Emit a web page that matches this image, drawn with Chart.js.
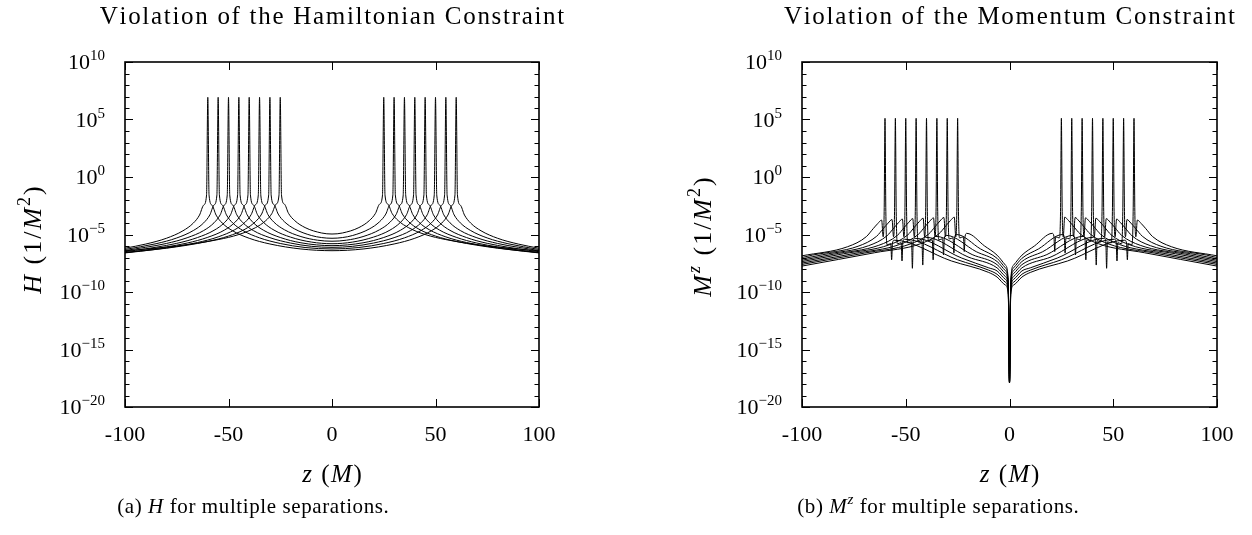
<!DOCTYPE html>
<html><head><meta charset="utf-8">
<script src="https://cdn.jsdelivr.net/npm/chart.js@4.4.1/dist/chart.umd.min.js"></script>
<style>
html,body{margin:0;padding:0;background:#fff;}
body{width:1252px;height:535px;position:relative;overflow:hidden;}
.wrap{position:absolute;top:0;width:626px;height:535px;}
canvas{display:block;}
</style></head><body>
<div class="wrap" style="left:0"><canvas id="cH" width="626" height="535"></canvas></div>
<div class="wrap" style="left:626px"><canvas id="cM" width="626" height="535"></canvas></div>
<script>
// ---------- axis ticks ----------
const zTicks = [-100, -50, 0, 50, 100];
const yMinorExps = [-20,-19,-18,-17,-16,-15,-14,-13,-12,-11,-10,-9,-8,-7,-6,-5,-4,-3,-2,-1,0,1,2,3,4,5,6,7,8,9,10];
const yLabelExps = [-20, -15, -10, -5, 0, 5, 10];

// ---------- Hamiltonian constraint, one curve per separation ----------
const hamSep50 = [[-100,3.8e-7],[-75,1.0e-6],[-55,3.6e-6],[-45,1.0e-5],[-37,3.9e-5],[-32,1.6e-4],[-29,6.9e-4],[-27,4.4e-3],[-25.6,2.7e-2],[-25,8.5e6],[-24.4,2.7e-2],[-23,4.4e-3],[-21,6.9e-4],[-18,1.6e-4],[-13,4.0e-5],[-5,1.35e-5],[0,1.1e-5],[5,1.35e-5],[13,4.0e-5],[18,1.6e-4],[21,6.9e-4],[23,4.4e-3],[24.4,2.7e-2],[25,8.5e6],[25.6,2.7e-2],[27,4.4e-3],[29,6.9e-4],[32,1.6e-4],[37,3.9e-5],[45,1.0e-5],[55,3.6e-6],[75,1.0e-6],[100,3.8e-7]];
const hamSep60 = [[-100,2.7e-7],[-80,6.4e-7],[-60,2.5e-6],[-50,7.3e-6],[-42,2.9e-5],[-37,1.3e-4],[-34,6.0e-4],[-32,4.0e-3],[-30.6,2.7e-2],[-30,8.5e6],[-29.4,2.7e-2],[-28,4.0e-3],[-26,6.0e-4],[-23,1.3e-4],[-18,3.0e-5],[-10,8.2e-6],[-5,5.4e-6],[0,4.7e-6],[5,5.4e-6],[10,8.2e-6],[18,3.0e-5],[23,1.3e-4],[26,6.0e-4],[28,4.0e-3],[29.4,2.7e-2],[30,8.5e6],[30.6,2.7e-2],[32,4.0e-3],[34,6.0e-4],[37,1.3e-4],[42,2.9e-5],[50,7.3e-6],[60,2.5e-6],[80,6.4e-7],[100,2.7e-7]];
const hamSep70 = [[-100,2.5e-7],[-85,5.1e-7],[-65,2.0e-6],[-55,6.2e-6],[-47,2.6e-5],[-42,1.16e-4],[-39,5.6e-4],[-37,3.9e-3],[-35.6,2.7e-2],[-35,8.5e6],[-34.4,2.7e-2],[-33,3.9e-3],[-31,5.6e-4],[-28,1.16e-4],[-23,2.6e-5],[-15,6.6e-6],[-7,3.2e-6],[0,2.6e-6],[7,3.2e-6],[15,6.6e-6],[23,2.6e-5],[28,1.16e-4],[31,5.6e-4],[33,3.9e-3],[34.4,2.7e-2],[35,8.5e6],[35.6,2.7e-2],[37,3.9e-3],[39,5.6e-4],[42,1.16e-4],[47,2.6e-5],[55,6.2e-6],[65,2.0e-6],[85,5.1e-7],[100,2.5e-7]];
const hamSep80 = [[-100,2.7e-7],[-90,4.5e-7],[-70,1.8e-6],[-60,5.7e-6],[-52,2.4e-5],[-47,1.1e-4],[-44,5.3e-4],[-42,3.8e-3],[-40.6,2.7e-2],[-40,8.5e6],[-39.4,2.7e-2],[-38,3.8e-3],[-36,5.3e-4],[-33,1.1e-4],[-28,2.4e-5],[-20,5.9e-6],[-10,2.2e-6],[0,1.58e-6],[10,2.2e-6],[20,5.9e-6],[28,2.4e-5],[33,1.1e-4],[36,5.3e-4],[38,3.8e-3],[39.4,2.7e-2],[40,8.5e6],[40.6,2.7e-2],[42,3.8e-3],[44,5.3e-4],[47,1.1e-4],[52,2.4e-5],[60,5.7e-6],[70,1.8e-6],[90,4.5e-7],[100,2.7e-7]];
const hamSep90 = [[-100,3.2e-7],[-95,4.2e-7],[-75,1.7e-6],[-65,5.4e-6],[-57,2.3e-5],[-52,1.06e-4],[-49,5.2e-4],[-47,3.8e-3],[-45.6,2.7e-2],[-45,8.5e6],[-44.4,2.7e-2],[-43,3.8e-3],[-41,5.2e-4],[-38,1.06e-4],[-33,2.3e-5],[-25,5.5e-6],[-15,1.9e-6],[0,1.07e-6],[15,1.9e-6],[25,5.5e-6],[33,2.3e-5],[38,1.06e-4],[41,5.2e-4],[43,3.8e-3],[44.4,2.7e-2],[45,8.5e6],[45.6,2.7e-2],[47,3.8e-3],[49,5.2e-4],[52,1.06e-4],[57,2.3e-5],[65,5.4e-6],[75,1.7e-6],[95,4.2e-7],[100,3.2e-7]];
const hamSep100 = [[-100,4.0e-7],[-80,1.66e-6],[-70,5.2e-6],[-62,2.2e-5],[-57,1.04e-4],[-54,5.2e-4],[-52,3.7e-3],[-50.6,2.7e-2],[-50,8.5e6],[-49.4,2.7e-2],[-48,3.7e-3],[-46,5.2e-4],[-43,1.04e-4],[-38,2.2e-5],[-30,5.3e-6],[-20,1.8e-6],[-10,9.4e-7],[0,7.6e-7],[10,9.4e-7],[20,1.8e-6],[30,5.3e-6],[38,2.2e-5],[43,1.04e-4],[46,5.2e-4],[48,3.7e-3],[49.4,2.7e-2],[50,8.5e6],[50.6,2.7e-2],[52,3.7e-3],[54,5.2e-4],[57,1.04e-4],[62,2.2e-5],[70,5.2e-6],[80,1.66e-6],[100,4.0e-7]];
const hamSep110 = [[-100,5.0e-7],[-85,1.58e-6],[-75,5.0e-6],[-67,2.2e-5],[-62,1.02e-4],[-59,5.1e-4],[-57,3.7e-3],[-55.6,2.7e-2],[-55,8.5e6],[-54.4,2.7e-2],[-53,3.7e-3],[-51,5.1e-4],[-48,1.02e-4],[-43,2.2e-5],[-35,5.1e-6],[-25,1.66e-6],[-13,7.4e-7],[0,5.5e-7],[13,7.4e-7],[25,1.66e-6],[35,5.1e-6],[43,2.2e-5],[48,1.02e-4],[51,5.1e-4],[53,3.7e-3],[54.4,2.7e-2],[55,8.5e6],[55.6,2.7e-2],[57,3.7e-3],[59,5.1e-4],[62,1.02e-4],[67,2.2e-5],[75,5.0e-6],[85,1.58e-6],[100,5.0e-7]];
const hamSep120 = [[-100,6.4e-7],[-90,1.47e-6],[-80,4.7e-6],[-72,2.1e-5],[-67,9.8e-5],[-64,4.9e-4],[-62,3.6e-3],[-60.6,2.7e-2],[-60,8.5e6],[-59.4,2.7e-2],[-58,3.6e-3],[-56,4.9e-4],[-53,9.8e-5],[-48,2.1e-5],[-40,4.7e-6],[-30,1.5e-6],[-15,5.5e-7],[0,3.9e-7],[15,5.5e-7],[30,1.5e-6],[40,4.7e-6],[48,2.1e-5],[53,9.8e-5],[56,4.9e-4],[58,3.6e-3],[59.4,2.7e-2],[60,8.5e6],[60.6,2.7e-2],[62,3.6e-3],[64,4.9e-4],[67,9.8e-5],[72,2.1e-5],[80,4.7e-6],[90,1.47e-6],[100,6.4e-7]];

// ---------- Momentum constraint (z component), one curve per separation ----------
const momSep50 = [[-100,1.8e-8],[-65,2.6e-7],[-43,1.55e-6],[-34,1.15e-5],[-30.7,5.6e-5],[-28.5,1.6e-4],[-26.6,3.2e-4],[-25.9,6.3e-6],[-25.4,1e-3],[-25,1.26e5],[-24.6,1e-3],[-24,5.0e-6],[-22.2,6.3e-6],[-21.8,3.3e-7],[-21.4,7.1e-6],[-20.6,1.26e-5],[-12,1e-6],[-6,1.6e-7],[-2,2.2e-8],[-0.6,1e-9],[0,1.26e-18],[0.6,1e-9],[2,2.2e-8],[6,1.6e-7],[12,1e-6],[20.6,1.26e-5],[21.4,7.1e-6],[21.8,3.3e-7],[22.2,6.3e-6],[24,5.0e-6],[24.6,1e-3],[25,1.26e5],[25.4,1e-3],[25.9,6.3e-6],[26.6,3.2e-4],[28.5,1.6e-4],[30.7,5.6e-5],[34,1.15e-5],[43,1.55e-6],[65,2.6e-7],[100,1.8e-8]];
const momSep60 = [[-100,2.5e-8],[-70,2.4e-7],[-48,1.45e-6],[-39,1.07e-5],[-35.7,5.2e-5],[-33.5,1.5e-4],[-31.6,3.0e-4],[-30.9,6.3e-6],[-30.4,1e-3],[-30,1.26e5],[-29.6,1e-3],[-29,4.1e-6],[-27.2,5.1e-6],[-26.8,2.4e-7],[-26.4,5.8e-6],[-25.6,1.0e-5],[-14,5.6e-7],[-6,8.5e-8],[-2,1.26e-8],[-0.6,6.8e-10],[0,1.26e-18],[0.6,6.8e-10],[2,1.26e-8],[6,8.5e-8],[14,5.6e-7],[25.6,1.0e-5],[26.4,5.8e-6],[26.8,2.4e-7],[27.2,5.1e-6],[29,4.1e-6],[29.6,1e-3],[30,1.26e5],[30.4,1e-3],[30.9,6.3e-6],[31.6,3.0e-4],[33.5,1.5e-4],[35.7,5.2e-5],[39,1.07e-5],[48,1.45e-6],[70,2.4e-7],[100,2.5e-8]];
const momSep70 = [[-100,3.3e-8],[-75,2.2e-7],[-53,1.35e-6],[-44,1.0e-5],[-40.7,4.9e-5],[-38.5,1.38e-4],[-36.6,2.8e-4],[-35.9,6.3e-6],[-35.4,1e-3],[-35,1.26e5],[-34.6,1e-3],[-34,3.4e-6],[-32.2,4.3e-6],[-31.8,1.66e-7],[-31.4,4.8e-6],[-30.6,8.5e-6],[-16,3.2e-7],[-6,4.5e-8],[-2,7.1e-9],[-0.6,4.5e-10],[0,1.26e-18],[0.6,4.5e-10],[2,7.1e-9],[6,4.5e-8],[16,3.2e-7],[30.6,8.5e-6],[31.4,4.8e-6],[31.8,1.66e-7],[32.2,4.3e-6],[34,3.4e-6],[34.6,1e-3],[35,1.26e5],[35.4,1e-3],[35.9,6.3e-6],[36.6,2.8e-4],[38.5,1.38e-4],[40.7,4.9e-5],[44,1.0e-5],[53,1.35e-6],[75,2.2e-7],[100,3.3e-8]];
const momSep80 = [[-100,4.4e-8],[-80,2.1e-7],[-58,1.26e-6],[-49,9.3e-6],[-45.7,4.6e-5],[-43.5,1.3e-4],[-41.6,2.6e-4],[-40.9,6.3e-6],[-40.4,1e-3],[-40,1.26e5],[-39.6,1e-3],[-39,2.75e-6],[-37.2,3.5e-6],[-36.8,6.3e-8],[-36.4,3.9e-6],[-35.6,6.9e-6],[-18,1.8e-7],[-6,2.4e-8],[-2,4.0e-9],[-0.6,3.0e-10],[0,1.26e-18],[0.6,3.0e-10],[2,4.0e-9],[6,2.4e-8],[18,1.8e-7],[35.6,6.9e-6],[36.4,3.9e-6],[36.8,6.3e-8],[37.2,3.5e-6],[39,2.75e-6],[39.6,1e-3],[40,1.26e5],[40.4,1e-3],[40.9,6.3e-6],[41.6,2.6e-4],[43.5,1.3e-4],[45.7,4.6e-5],[49,9.3e-6],[58,1.26e-6],[80,2.1e-7],[100,4.4e-8]];
const momSep90 = [[-100,5.8e-8],[-85,1.9e-7],[-63,1.15e-6],[-54,8.5e-6],[-50.7,4.2e-5],[-48.5,1.17e-4],[-46.6,2.4e-4],[-45.9,6.3e-6],[-45.4,1e-3],[-45,1.26e5],[-44.6,1e-3],[-44,2.3e-6],[-42.2,2.9e-6],[-41.8,2.2e-8],[-41.4,3.2e-6],[-40.6,5.8e-6],[-20,1.12e-7],[-6,1.26e-8],[-2,2.2e-9],[-0.6,2.0e-10],[0,1.26e-18],[0.6,2.0e-10],[2,2.2e-9],[6,1.26e-8],[20,1.12e-7],[40.6,5.8e-6],[41.4,3.2e-6],[41.8,2.2e-8],[42.2,2.9e-6],[44,2.3e-6],[44.6,1e-3],[45,1.26e5],[45.4,1e-3],[45.9,6.3e-6],[46.6,2.4e-4],[48.5,1.17e-4],[50.7,4.2e-5],[54,8.5e-6],[63,1.15e-6],[85,1.9e-7],[100,5.8e-8]];
const momSep100 = [[-100,7.6e-8],[-90,1.74e-7],[-68,1.05e-6],[-59,7.8e-6],[-55.7,3.8e-5],[-53.5,1.07e-4],[-51.6,2.2e-4],[-50.9,6.3e-6],[-50.4,1e-3],[-50,1.26e5],[-49.6,1e-3],[-49,1.86e-6],[-47.2,2.3e-6],[-46.8,1.15e-8],[-46.4,2.6e-6],[-45.6,4.7e-6],[-23,8.9e-8],[-10,1.26e-8],[-6,6.8e-9],[-2,1.26e-9],[-0.6,1.35e-10],[0,1.26e-18],[0.6,1.35e-10],[2,1.26e-9],[6,6.8e-9],[10,1.26e-8],[23,8.9e-8],[45.6,4.7e-6],[46.4,2.6e-6],[46.8,1.15e-8],[47.2,2.3e-6],[49,1.86e-6],[49.6,1e-3],[50,1.26e5],[50.4,1e-3],[50.9,6.3e-6],[51.6,2.2e-4],[53.5,1.07e-4],[55.7,3.8e-5],[59,7.8e-6],[68,1.05e-6],[90,1.74e-7],[100,7.6e-8]];
const momSep110 = [[-100,1e-7],[-95,1.6e-7],[-73,9.5e-7],[-64,7.1e-6],[-60.7,3.5e-5],[-58.5,9.8e-5],[-56.6,2.0e-4],[-55.9,6.3e-6],[-55.4,1e-3],[-55,1.26e5],[-54.6,1e-3],[-54,1.55e-6],[-52.2,1.95e-6],[-51.8,5.0e-8],[-51.4,2.2e-6],[-50.6,3.9e-6],[-25,6.3e-8],[-10,7.9e-9],[-6,3.5e-9],[-2,7.1e-10],[-0.6,8.9e-11],[0,1.26e-18],[0.6,8.9e-11],[2,7.1e-10],[6,3.5e-9],[10,7.9e-9],[25,6.3e-8],[50.6,3.9e-6],[51.4,2.2e-6],[51.8,5.0e-8],[52.2,1.95e-6],[54,1.55e-6],[54.6,1e-3],[55,1.26e5],[55.4,1e-3],[55.9,6.3e-6],[56.6,2.0e-4],[58.5,9.8e-5],[60.7,3.5e-5],[64,7.1e-6],[73,9.5e-7],[95,1.6e-7],[100,1e-7]];
const momSep120 = [[-100,1.4e-7],[-78,8.7e-7],[-69,6.5e-6],[-65.7,3.2e-5],[-63.5,8.9e-5],[-61.6,1.8e-4],[-60.9,6.3e-6],[-60.4,1e-3],[-60,1.26e5],[-59.6,1e-3],[-59,1.26e-6],[-57.2,1.6e-6],[-56.8,6.3e-8],[-56.4,1.8e-6],[-55.6,3.2e-6],[-28,5.0e-8],[-10,5.0e-9],[-6,2.0e-9],[-2,4.0e-10],[-0.6,6.3e-11],[0,1.26e-18],[0.6,6.3e-11],[2,4.0e-10],[6,2.0e-9],[10,5.0e-9],[28,5.0e-8],[55.6,3.2e-6],[56.4,1.8e-6],[56.8,6.3e-8],[57.2,1.6e-6],[59,1.26e-6],[59.6,1e-3],[60,1.26e5],[60.4,1e-3],[60.9,6.3e-6],[61.6,1.8e-4],[63.5,8.9e-5],[65.7,3.2e-5],[69,6.5e-6],[78,8.7e-7],[100,1.4e-7]];

const hamSeries = [hamSep50, hamSep60, hamSep70, hamSep80, hamSep90, hamSep100, hamSep110, hamSep120];
const momSeries = [momSep50, momSep60, momSep70, momSep80, momSep90, momSep100, momSep110, momSep120];
const sepLabels = ['50','60','70','80','90','100','110','120'];

// ---------- styling ----------
const FAM = '"Liberation Serif", "Times New Roman", serif';
const TICK_PX = 22;

// draws a run of text segments (italic / superscript) character by character
function drawRich(ctx, segs, x, y, align, size, ls) {
  const supSize = Math.round(size * 0.7);
  const items = [];
  let total = 0;
  segs.forEach(s => {
    const f = (s.it ? 'italic ' : '') + (s.sup ? supSize : size) + 'px ' + FAM;
    ctx.font = f;
    for (const ch of s.t) {
      const w = ctx.measureText(ch).width + ls;
      items.push({ch, f, w, dy: s.sup ? -size * 0.42 : 0});
      total += w;
    }
  });
  total -= ls;
  let cx = align === 'center' ? x - total / 2 : (align === 'right' ? x - total : x);
  ctx.textAlign = 'left'; ctx.textBaseline = 'alphabetic';
  items.forEach(it => {
    ctx.font = it.f;
    ctx.fillText(it.ch, cx, y + it.dy);
    cx += it.w;
  });
}

function framePlugin(cfg) {
  return {
    id: 'frame_' + cfg.key,
    afterDatasetsDraw(chart) {
      const ctx = chart.ctx, a = chart.chartArea;
      const xs = chart.scales.x, ys = chart.scales.y;
      ctx.save();
      ctx.fillStyle = '#000'; ctx.strokeStyle = '#000';
      // inward ticks
      ctx.lineWidth = 1;
      ctx.beginPath();
      zTicks.forEach(v => {
        const px = Math.round(xs.getPixelForValue(v)) + 0.5;
        ctx.moveTo(px, a.bottom); ctx.lineTo(px, a.bottom - 8);
        ctx.moveTo(px, a.top); ctx.lineTo(px, a.top + 8);
      });
      yMinorExps.forEach(e => {
        const py = Math.round(ys.getPixelForValue(Math.pow(10, e))) + 0.5;
        const len = (e % 5 === 0) ? 8 : 4.5;
        ctx.moveTo(a.left, py); ctx.lineTo(a.left + len, py);
        ctx.moveTo(a.right, py); ctx.lineTo(a.right - len, py);
      });
      ctx.stroke();
      // frame
      ctx.lineWidth = 1.6;
      ctx.strokeRect(a.left, a.top, a.right - a.left, a.bottom - a.top);
      // y tick labels 10^n
      yLabelExps.forEach(e => {
        const py = ys.getPixelForValue(Math.pow(10, e));
        drawRich(ctx, [{t: '10'}, {t: (e < 0 ? '\u2212' : '') + Math.abs(e), sup: true}],
          a.left - 20, py + 7.3, 'right', TICK_PX, 0);
      });
      // panel title
      drawRich(ctx, [{t: cfg.title}], (a.left + a.right) / 2, 24, 'center', 25, 1.7);
      // x axis title
      drawRich(ctx, [{t: 'z', it: true}, {t: ' ('}, {t: 'M', it: true}, {t: ')'}],
        (a.left + a.right) / 2, 482, 'center', 25, 1.5);
      // y axis title (rotated)
      ctx.save();
      ctx.translate(cfg.yTitleX, cfg.yTitleY);
      ctx.rotate(-Math.PI / 2);
      drawRich(ctx, cfg.yTitle, 0, 0, 'center', 26, 2);
      ctx.restore();
      // caption
      drawRich(ctx, cfg.caption, cfg.capX, 513, 'center', 21, 0.6);
      ctx.restore();
    }
  };
}

function makeChart(id, series, cfg) {
  const datasets = series.map((s, i) => ({
    label: 'separation ' + sepLabels[i] + ' M',
    data: s.map(p => ({x: p[0], y: p[1]})),
    borderColor: '#000', borderWidth: 1, pointRadius: 0, fill: false,
    cubicInterpolationMode: 'monotone'
  }));
  return new Chart(document.getElementById(id), {
    type: 'line',
    data: {datasets},
    options: {
      responsive: false, animation: false, devicePixelRatio: 1,
      layout: {padding: {left: 0, right: cfg.padRight, top: 62, bottom: 0}},
      plugins: {legend: {display: false}, tooltip: {enabled: false}, title: {display: false}},
      scales: {
        x: {
          type: 'linear', min: -100, max: 100,
          afterBuildTicks: s => { s.ticks = zTicks.map(v => ({value: v})); },
          ticks: {callback: v => String(v), color: '#000', padding: 15, maxRotation: 0,
                  font: {family: FAM, size: TICK_PX}},
          grid: {display: false, drawTicks: false},
          border: {display: false},
          afterFit: s => { s.height = 128; }
        },
        y: {
          type: 'logarithmic', min: 1e-20, max: 1e10,
          ticks: {display: false},
          grid: {display: false, drawTicks: false},
          border: {display: false},
          afterFit: s => { s.width = cfg.yWidth; }
        }
      }
    },
    plugins: [framePlugin(cfg)]
  });
}

makeChart('cH', hamSeries, {
  key: 'H', padRight: 87, yWidth: 125, yTitleX: 41, yTitleY: 240,
  title: 'Violation of the Hamiltonian Constraint',
  yTitle: [{t: 'H', it: true}, {t: ' (1/'}, {t: 'M', it: true}, {t: '2', sup: true}, {t: ')'}],
  caption: [{t: '(a) '}, {t: 'H', it: true}, {t: ' for multiple separations.'}], capX: 253
});
makeChart('cM', momSeries, {
  key: 'M', padRight: 35, yWidth: 176, yTitleX: 84.5, yTitleY: 237,
  title: 'Violation of the Momentum Constraint',
  yTitle: [{t: 'M', it: true}, {t: 'z', it: true, sup: true}, {t: ' (1/'}, {t: 'M', it: true}, {t: '2', sup: true}, {t: ')'}],
  caption: [{t: '(b) '}, {t: 'M', it: true}, {t: 'z', it: true, sup: true}, {t: ' for multiple separations.'}], capX: 312
});
</script>
</body></html>
